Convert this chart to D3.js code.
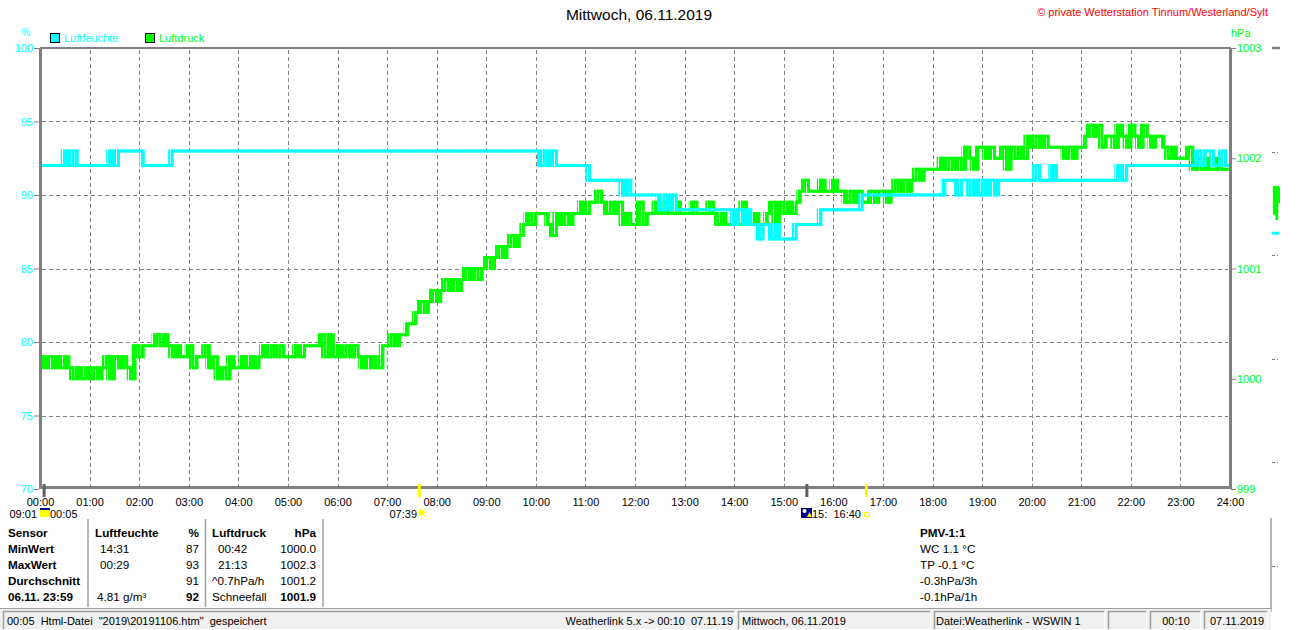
<!DOCTYPE html>
<html>
<head>
<meta charset="utf-8">
<script src="https://cdn.jsdelivr.net/npm/d3@7"></script>
<style>
  html, body { margin: 0; padding: 0; background: #fff; }
  svg { display: block; font-family: "Liberation Sans", Arial, sans-serif; }
  text { white-space: pre; }
</style>
</head>
<body>
<svg id="chart" width="1310" height="630"></svg>
<script>
// Tagesgrafik Luftfeuchte / Luftdruck, 06.11.2019 (5-Minuten-Werte)

const timeTicks = ["00:00", "01:00", "02:00", "03:00", "04:00", "05:00", "06:00", "07:00", "08:00",
  "09:00", "10:00", "11:00", "12:00", "13:00", "14:00", "15:00", "16:00", "17:00", "18:00",
  "19:00", "20:00", "21:00", "22:00", "23:00", "24:00"];
const humTicks = [70, 75, 80, 85, 90, 95, 100];
const presTicks = [999, 1000, 1001, 1002, 1003];

// one row per hour, 12 values at :00, :05 ... :55
const luftdruck = [
  [1000.2, 1000.1, 1000.2, 1000.1, 1000.2, 1000.1, 1000.2, 1000.1, 1000.0, 1000.1, 1000.0, 1000.1],
  [1000.0, 1000.1, 1000.0, 1000.1, 1000.2, 1000.0, 1000.2, 1000.1, 1000.2, 1000.1, 1000.0, 1000.3],
  [1000.2, 1000.3, 1000.3, 1000.3, 1000.4, 1000.3, 1000.4, 1000.3, 1000.2, 1000.3, 1000.2, 1000.2],
  [1000.3, 1000.1, 1000.2, 1000.2, 1000.3, 1000.1, 1000.2, 1000.0, 1000.1, 1000.0, 1000.2, 1000.1],
  [1000.1, 1000.2, 1000.1, 1000.2, 1000.1, 1000.2, 1000.3, 1000.2, 1000.3, 1000.2, 1000.3, 1000.2],
  [1000.2, 1000.2, 1000.3, 1000.2, 1000.3, 1000.3, 1000.3, 1000.3, 1000.4, 1000.2, 1000.4, 1000.2],
  [1000.3, 1000.2, 1000.3, 1000.2, 1000.3, 1000.2, 1000.1, 1000.2, 1000.1, 1000.2, 1000.1, 1000.3],
  [1000.3, 1000.4, 1000.3, 1000.4, 1000.4, 1000.5, 1000.5, 1000.6, 1000.7, 1000.6, 1000.7, 1000.8],
  [1000.7, 1000.8, 1000.9, 1000.8, 1000.9, 1000.8, 1000.9, 1001.0, 1000.9, 1001.0, 1000.9, 1001.0],
  [1001.1, 1001.0, 1001.1, 1001.2, 1001.1, 1001.2, 1001.3, 1001.2, 1001.3, 1001.4, 1001.5, 1001.4],
  [1001.5, 1001.5, 1001.5, 1001.4, 1001.3, 1001.5, 1001.4, 1001.5, 1001.4, 1001.5, 1001.5, 1001.6],
  [1001.5, 1001.6, 1001.6, 1001.7, 1001.6, 1001.5, 1001.6, 1001.5, 1001.6, 1001.4, 1001.5, 1001.4],
  [1001.4, 1001.6, 1001.4, 1001.5, 1001.5, 1001.6, 1001.5, 1001.6, 1001.5, 1001.5, 1001.6, 1001.5],
  [1001.5, 1001.5, 1001.6, 1001.5, 1001.5, 1001.5, 1001.6, 1001.5, 1001.4, 1001.5, 1001.4, 1001.4],
  [1001.5, 1001.4, 1001.6, 1001.5, 1001.4, 1001.5, 1001.4, 1001.4, 1001.5, 1001.6, 1001.4, 1001.6],
  [1001.5, 1001.6, 1001.5, 1001.6, 1001.7, 1001.8, 1001.7, 1001.7, 1001.7, 1001.8, 1001.7, 1001.7],
  [1001.8, 1001.7, 1001.7, 1001.6, 1001.7, 1001.6, 1001.7, 1001.6, 1001.6, 1001.7, 1001.6, 1001.7],
  [1001.7, 1001.6, 1001.7, 1001.8, 1001.7, 1001.8, 1001.7, 1001.8, 1001.9, 1001.8, 1001.9, 1001.9],
  [1001.9, 1001.9, 1002.0, 1001.9, 1002.0, 1001.9, 1002.0, 1001.9, 1002.1, 1002.0, 1001.9, 1002.1],
  [1002.1, 1002.0, 1002.1, 1002.0, 1002.0, 1002.1, 1001.9, 1002.1, 1002.0, 1002.1, 1002.0, 1002.2],
  [1002.1, 1002.2, 1002.1, 1002.2, 1002.1, 1002.1, 1002.1, 1002.1, 1002.0, 1002.1, 1002.0, 1002.1],
  [1002.1, 1002.2, 1002.3, 1002.2, 1002.3, 1002.1, 1002.2, 1002.2, 1002.1, 1002.3, 1002.2, 1002.1],
  [1002.3, 1002.2, 1002.1, 1002.3, 1002.2, 1002.1, 1002.2, 1002.2, 1002.1, 1002.0, 1002.1, 1002.0],
  [1002.0, 1002.0, 1002.1, 1001.9, 1002.0, 1001.9, 1002.0, 1001.9, 1001.9, 1002.0, 1001.9, 1001.9],
];

const luftfeuchte = [
  [92, 92, 92, 92, 92, 92, 93, 92, 93, 92, 92, 92],
  [92, 92, 92, 92, 92, 93, 92, 93, 93, 93, 93, 93],
  [93, 92, 92, 92, 92, 92, 92, 92, 93, 93, 93, 93],
  [93, 93, 93, 93, 93, 93, 93, 93, 93, 93, 93, 93],
  [93, 93, 93, 93, 93, 93, 93, 93, 93, 93, 93, 93],
  [93, 93, 93, 93, 93, 93, 93, 93, 93, 93, 93, 93],
  [93, 93, 93, 93, 93, 93, 93, 93, 93, 93, 93, 93],
  [93, 93, 93, 93, 93, 93, 93, 93, 93, 93, 93, 93],
  [93, 93, 93, 93, 93, 93, 93, 93, 93, 93, 93, 93],
  [93, 93, 93, 93, 93, 93, 93, 93, 93, 93, 93, 93],
  [93, 92, 93, 92, 93, 92, 92, 92, 92, 92, 92, 92],
  [92, 91, 91, 91, 91, 91, 91, 91, 91, 90, 91, 90],
  [90, 90, 90, 90, 90, 90, 89, 90, 89, 90, 89, 89],
  [89, 89, 89, 89, 89, 89, 89, 89, 89, 89, 89, 89],
  [88, 89, 88, 89, 88, 88, 87, 88, 88, 87, 88, 87],
  [87, 87, 87, 88, 88, 88, 88, 88, 88, 89, 89, 89],
  [89, 89, 89, 89, 89, 89, 89, 90, 90, 90, 90, 90],
  [90, 90, 90, 90, 90, 90, 90, 90, 90, 90, 90, 90],
  [90, 90, 90, 91, 91, 91, 90, 91, 91, 90, 91, 90],
  [91, 90, 91, 90, 91, 91, 91, 91, 91, 91, 91, 91],
  [91, 92, 91, 91, 91, 92, 91, 91, 91, 91, 91, 91],
  [91, 91, 91, 91, 91, 91, 91, 91, 91, 92, 91, 92],
  [92, 92, 92, 92, 92, 92, 92, 92, 92, 92, 92, 92],
  [92, 92, 92, 92, 93, 92, 93, 93, 92, 92, 93, 92],
];

// small trend strip right of the chart
const miniDruck = [1001.74, 1001.5, 1001.74, 1001.49, 1001.45, 1001.74, 1001.6, 1001.74];
const miniFeuchte = [87.4, 87.4];

// sun / moon events on the time axis
const eventTimes = ["00:05", "07:39", "15:28", "16:40"];
const eventKinds = ["moon", "sun", "moon", "sun"];

const tableLabels = ["Sensor", "MinWert", "MaxWert", "Durchschnitt", "06.11. 23:59"];
const humInfo = ["Luftfeuchte", "14:31", "00:29", "", "4.81 g/m\u00b3"];
const humValues = ["%", "87", "93", "91", "92"];
const presInfo = ["Luftdruck", "00:42", "21:13", "^0.7hPa/h", "Schneefall"];
const presValues = ["hPa", "1000.0", "1002.3", "1001.2", "1001.9"];
const pmvLines = ["PMV-1:1", "WC 1.1 \u00b0C", "TP -0.1 \u00b0C", "-0.3hPa/3h", "-0.1hPa/1h"];

const statusTexts = [
  "00:05  Html-Datei  \"2019\\20191106.htm\"  gespeichert",
  "Weatherlink 5.x -> 00:10  07.11.19",
  "Mittwoch, 06.11.2019",
  "Datei:Weatherlink - WSWIN 1",
  "",
  "00:10",
  "07.11.2019",
];

const CYAN = "#00ffff";
const GREEN = "#00ff00";
const FRAME = "#808080";

const svg = d3.select("#chart");
const plotLeft = 40, plotRight = 1230, plotTop = 48, plotBottom = 489;

const toMin = (s) => +s.slice(0, 2) * 60 + +s.slice(3, 5);

const x = d3.scaleLinear().domain([0, 1440]).range([plotLeft, plotRight]);
const yHum = d3.scaleLinear().domain([70, 100]).range([plotBottom, plotTop]);
const yPres = d3.scaleLinear().domain([999, 1003]).range([plotBottom, plotTop]);

function toSeries(rows) {
  const pts = [];
  rows.forEach((row, h) => row.forEach((v, i) => pts.push({ t: h * 60 + i * 5, v })));
  pts.push({ t: 1440, v: pts[pts.length - 1].v });
  return pts;
}
// each 5-minute step also spans the range to the next value, so the
// flicker between two adjacent levels is drawn as a hatched band
function toSteps(pts) {
  return pts.map((d, i) => {
    const next = i < pts.length - 1 ? pts[i + 1].v : d.v;
    return { t: d.t, lo: Math.min(d.v, next), hi: Math.max(d.v, next) };
  });
}
const presData = toSeries(luftdruck);
const humData = toSeries(luftfeuchte);

// hatch patterns for the flicker bands
const defs = svg.append("defs");
[["hatchGreen", GREEN], ["hatchCyan", CYAN]].forEach(([id, color]) => {
  const p = defs.append("pattern").attr("id", id).attr("patternUnits", "userSpaceOnUse")
    .attr("width", 3).attr("height", 4);
  p.append("rect").attr("width", 2).attr("height", 4).attr("fill", color);
});

// title and header
svg.append("text").attr("x", 639).attr("y", 20).attr("text-anchor", "middle")
  .attr("font-size", 15.5).attr("fill", "#000").text("Mittwoch, 06.11.2019");
svg.append("text").attr("x", 1268).attr("y", 16).attr("text-anchor", "end")
  .attr("font-size", 11).attr("fill", "#ff0000").text("\u00a9 private Wetterstation Tinnum/Westerland/Sylt");
svg.append("text").attr("x", 26).attr("y", 36).attr("text-anchor", "middle")
  .attr("font-size", 10).attr("fill", CYAN).text("%");
svg.append("text").attr("x", 1231).attr("y", 37)
  .attr("font-size", 11).attr("fill", GREEN).text("hPa");

const legend = [{ name: "Luftfeuchte", color: CYAN, x: 50 }, { name: "Luftdruck", color: GREEN, x: 145 }];
legend.forEach((d) => {
  svg.append("rect").attr("x", d.x + 0.5).attr("y", 33.5).attr("width", 9).attr("height", 9)
    .attr("fill", d.color).attr("stroke", "#000");
  svg.append("text").attr("x", d.x + 14).attr("y", 42).attr("font-size", 11)
    .attr("fill", d.color).text(d.name);
});

// grid
const grid = svg.append("g").attr("stroke", FRAME).attr("stroke-width", 1)
  .attr("stroke-dasharray", "4,3").attr("shape-rendering", "crispEdges");
grid.selectAll("line.v").data(d3.range(60, 1440, 60)).join("line")
  .attr("class", "v").attr("x1", (d) => Math.round(x(d)) + 0.5).attr("x2", (d) => Math.round(x(d)) + 0.5)
  .attr("y1", plotTop + 2).attr("y2", plotBottom - 2);
grid.selectAll("line.h").data(humTicks.slice(1, -1)).join("line")
  .attr("class", "h").attr("y1", (d) => Math.round(yHum(d)) + 0.5).attr("y2", (d) => Math.round(yHum(d)) + 0.5)
  .attr("x1", plotLeft + 2).attr("x2", plotRight - 2);

// series: hatched flicker band plus the stepped line
function drawSeries(data, yScale, color, hatch) {
  const band = d3.area().curve(d3.curveStepAfter).x((d) => x(d.t))
    .y0((d) => yScale(d.lo) + 1.5).y1((d) => yScale(d.hi) - 1.5);
  svg.append("path").datum(toSteps(data)).attr("d", band).attr("fill", `url(#${hatch})`);
  const line = d3.line().curve(d3.curveStepAfter).x((d) => x(d.t)).y((d) => yScale(d.v));
  svg.append("path").datum(data).attr("d", line).attr("fill", "none")
    .attr("stroke", color).attr("stroke-width", 3);
}
drawSeries(presData, yPres, GREEN, "hatchGreen");
drawSeries(humData, yHum, CYAN, "hatchCyan");

// mini trend strip
const xMini = d3.scaleLinear().domain([0, miniDruck.length - 1]).range([1273, 1279]);
svg.append("path").datum(miniDruck)
  .attr("d", d3.line().curve(d3.curveStepAfter).x((d, i) => xMini(i)).y((d) => yPres(d)))
  .attr("fill", "none").attr("stroke", GREEN).attr("stroke-width", 2);
svg.append("path").datum(miniFeuchte)
  .attr("d", d3.line().x((d, i) => 1272 + i * 7).y((d) => yHum(d)))
  .attr("fill", "none").attr("stroke", CYAN).attr("stroke-width", 3);

// auxiliary axis marks right of the strip
const yAux = d3.scaleLinear().domain([0, 5]).range([plotTop, 566]);
svg.append("line").attr("x1", 1272).attr("x2", 1280).attr("y1", plotTop).attr("y2", plotTop)
  .attr("stroke", FRAME).attr("stroke-width", 2.5);
d3.range(1, 6).forEach((i) => {
  svg.append("rect").attr("x", 1272).attr("y", Math.round(yAux(i))).attr("width", 3).attr("height", 1).attr("fill", FRAME);
  svg.append("rect").attr("x", 1277).attr("y", Math.round(yAux(i))).attr("width", 1).attr("height", 1).attr("fill", FRAME);
});

// frame
const frame = svg.append("g").attr("stroke", FRAME).attr("shape-rendering", "crispEdges");
frame.append("line").attr("x1", plotLeft).attr("x2", plotRight + 1).attr("y1", plotTop).attr("y2", plotTop).attr("stroke-width", 2.5);
frame.append("line").attr("x1", plotLeft).attr("x2", plotLeft).attr("y1", plotTop).attr("y2", plotBottom).attr("stroke-width", 3);
frame.append("line").attr("x1", plotRight).attr("x2", plotRight).attr("y1", plotTop).attr("y2", plotBottom).attr("stroke-width", 3);
frame.append("line").attr("x1", plotLeft).attr("x2", plotRight + 1).attr("y1", plotBottom - 1.5).attr("y2", plotBottom - 1.5).attr("stroke-width", 3);

// axes
function styleAxis(g, color) {
  g.select(".domain").remove();
  g.selectAll(".tick line").attr("stroke", FRAME);
  g.selectAll(".tick text").attr("fill", color).attr("font-size", 11)
    .attr("font-family", "'Liberation Sans', Arial, sans-serif");
}
svg.append("g").attr("transform", `translate(${plotLeft - 1},0)`)
  .call(d3.axisLeft(yHum).tickValues(humTicks).tickSize(5).tickPadding(1))
  .call((g) => styleAxis(g, CYAN));
svg.append("g").attr("transform", `translate(${plotRight + 1},0)`)
  .call(d3.axisRight(yPres).tickValues(presTicks).tickSize(5).tickPadding(1).tickFormat(d3.format("d")))
  .call((g) => styleAxis(g, GREEN));
svg.append("g").attr("transform", `translate(0,${plotBottom})`)
  .call(d3.axisBottom(x).tickValues(d3.range(0, 1441, 60)).tickSize(0).tickPadding(9)
    .tickFormat((d, i) => timeTicks[i]))
  .call((g) => styleAxis(g, "#000"));

// sun and moon events
eventTimes.forEach((t, i) => {
  svg.append("line").attr("x1", x(toMin(t))).attr("x2", x(toMin(t))).attr("y1", 484).attr("y2", 497)
    .attr("stroke", eventKinds[i] === "sun" ? "#ffff00" : "#606060").attr("stroke-width", 3);
});
const evText = (xp, s, anchor) => svg.append("text").attr("x", xp).attr("y", 518)
  .attr("font-size", 11).attr("fill", "#000").attr("text-anchor", anchor || "start").text(s);
evText(37, "09:01", "end");
svg.append("rect").attr("x", 40).attr("y", 508).attr("width", 10).attr("height", 9).attr("fill", "#ffff00");
svg.append("rect").attr("x", 40).attr("y", 508).attr("width", 10).attr("height", 2).attr("fill", "#000080");
evText(50, "00:05");
evText(417, "07:39", "end");
const sun = svg.append("g").attr("transform", "translate(421.5,512.5)");
sun.append("circle").attr("r", 3).attr("fill", "#ffff00");
d3.range(8).forEach((k) => {
  const a = (k * Math.PI) / 4;
  sun.append("line").attr("x1", Math.cos(a) * 3.5).attr("y1", Math.sin(a) * 3.5)
    .attr("x2", Math.cos(a) * 5).attr("y2", Math.sin(a) * 5).attr("stroke", "#ffff00").attr("stroke-width", 1);
});
svg.append("rect").attr("x", 801).attr("y", 508).attr("width", 11).attr("height", 10).attr("fill", "#000080");
svg.append("circle").attr("cx", 804.5).attr("cy", 511).attr("r", 2).attr("fill", "#fff");
svg.append("path").attr("d", "M807,517 L809.5,512 L812,517 Z").attr("fill", "#ffff00");
evText(812, "15:  16:40");
svg.append("rect").attr("x", 864.5).attr("y", 512.5).attr("width", 5).attr("height", 4)
  .attr("fill", "none").attr("stroke", "#ffff00");

// data table
const rowY = [537, 553, 569, 585, 601];
const table = svg.append("g").attr("font-size", 11.7).attr("fill", "#000");
tableLabels.forEach((s, i) => table.append("text").attr("x", 8).attr("y", rowY[i]).attr("font-weight", "bold").text(s));
const humX = [95, 100, 100, 100, 97];
const presX = [212, 218, 218, 212, 212];
humInfo.forEach((s, i) => table.append("text").attr("x", humX[i]).attr("y", rowY[i])
  .attr("font-weight", i === 0 ? "bold" : "normal").text(s));
humValues.forEach((s, i) => table.append("text").attr("x", 199).attr("y", rowY[i]).attr("text-anchor", "end")
  .attr("font-weight", i === 0 || i === 4 ? "bold" : "normal").text(s));
presInfo.forEach((s, i) => table.append("text").attr("x", presX[i]).attr("y", rowY[i])
  .attr("font-weight", i === 0 ? "bold" : "normal").text(s));
presValues.forEach((s, i) => table.append("text").attr("x", 316).attr("y", rowY[i]).attr("text-anchor", "end")
  .attr("font-weight", i === 0 || i === 4 ? "bold" : "normal").text(s));
pmvLines.forEach((s, i) => table.append("text").attr("x", 920).attr("y", rowY[i])
  .attr("font-weight", i === 0 ? "bold" : "normal").text(s));
[88, 205.5, 323].forEach((xp) => svg.append("line").attr("x1", xp).attr("x2", xp).attr("y1", 519).attr("y2", 607)
  .attr("stroke", "#a0a0a0").attr("stroke-width", 1.5));
svg.append("line").attr("x1", 1271).attr("x2", 1271).attr("y1", 518).attr("y2", 612)
  .attr("stroke", "#a0a0a0").attr("stroke-width", 1.5);

// status bar
svg.append("rect").attr("x", 0).attr("y", 608).attr("width", 1271).attr("height", 22).attr("fill", "#f0f0f0");
svg.append("line").attr("x1", 0).attr("x2", 1271).attr("y1", 608.5).attr("y2", 608.5).attr("stroke", "#a0a0a0");
const panels = [[3, 735], [738, 931], [934, 1105], [1108, 1147], [1150, 1201], [1204, 1268]];
panels.forEach(([a, b]) => {
  svg.append("path").attr("d", `M${a + 0.5},629 V611.5 H${b - 0.5}`).attr("fill", "none")
    .attr("stroke", "#a0a0a0").attr("stroke-width", 1.5);
  svg.append("path").attr("d", `M${b - 0.5},611.5 V629.5 H${a + 0.5}`).attr("fill", "none")
    .attr("stroke", "#ffffff").attr("stroke-width", 1);
});
const statusBar = svg.append("g").attr("font-size", 11).attr("fill", "#000");
const statusPos = [[7, "start"], [733, "end"], [742, "start"], [936, "start"], [1127, "middle"], [1176, "middle"], [1210, "start"]];
statusTexts.forEach((s, i) => statusBar.append("text").attr("x", statusPos[i][0]).attr("y", 625)
  .attr("text-anchor", statusPos[i][1]).text(s));
</script>
</body>
</html>
